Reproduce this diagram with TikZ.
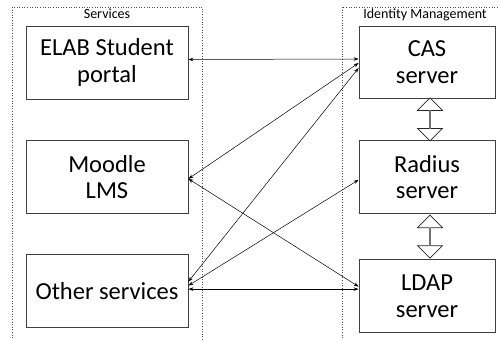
\documentclass[tikz,border=0pt]{standalone}
\usepackage{fontspec}
\setmainfont{Carlito}
\usetikzlibrary{positioning,calc,shapes.arrows,arrows.meta}
\tikzset{srvbox/.style={draw=black!75, line width=0.8pt, minimum width=162pt, minimum height=73pt,
    align=center, inner sep=0pt, font=\fontsize{24.5}{26.5}\selectfont}}
\tikzset{group/.style={draw=black!70, dotted, line width=0.6pt}}
\tikzset{grouplabel/.style={anchor=north, inner sep=1.5pt, font=\fontsize{14}{16}\selectfont}}
\tikzset{link/.style={{Stealth[length=5pt,width=3.5pt]}-{Stealth[length=5pt,width=3.5pt]}, line width=0.5pt}}
\tikzset{fatarrow/.style={double arrow, draw=black!85, fill=white, line width=0.7pt, inner sep=0pt,
    double arrow head extend=6.5pt, minimum width=25pt, minimum height=43pt, shape border rotate=90}}

\begin{document}
\begin{tikzpicture}[x=1pt, y=-1pt]
    \clip (0,0) rectangle (498,340);
    % the two groups
    \draw [group] (12,7) rectangle (202,350);
    \draw [group] (342,7) rectangle (520,350);
    \node [grouplabel] (svclbl) at (107,7) {Services};
    \node [grouplabel] (idmlbl) at (425,7) {Identity Management};
    % services
    \node [srvbox] (elab) at (107,62.5) {ELAB Student\\portal};
    \node [srvbox, below=41pt of elab] (moodle) {Moodle\\LMS};
    \node [srvbox, below=40pt of moodle] (other) {Other services};
    % identity management
    \node [srvbox, minimum width=136pt, minimum height=72pt] (cas) at (427,62) {CAS\\server};
    \node [srvbox, minimum width=136pt, below=42pt of cas] (radius) {Radius\\server};
    \node [srvbox, minimum width=136pt, below=45pt of radius] (ldap) {LDAP\\server};
    \node [fatarrow, xshift=3pt] (casrad) at ($(cas.south)!0.5!(radius.north)$) {};
    \node [fatarrow, xshift=3pt] (radldap) at ($(radius.south)!0.5!(ldap.north)$) {};
    % links
    \draw [link] ([yshift=3pt] elab.east) -- ([yshift=3pt] cas.west);
    \draw [link] ([yshift=-1.5pt] moodle.east) -- ([yshift=-1pt] cas.west);
    \draw [link] ([yshift=-1.5pt] moodle.east) -- ([yshift=9.5pt] ldap.west);
    \draw [link] ([yshift=9.5pt] other.east) -- ([yshift=-6pt] cas.west);
    \draw [link] ([yshift=5.5pt] other.east) -- ([yshift=-2.5pt] radius.west);
    \draw [link] ([yshift=2pt] other.east) -- ([yshift=7pt] ldap.west);
\end{tikzpicture}
\end{document}
